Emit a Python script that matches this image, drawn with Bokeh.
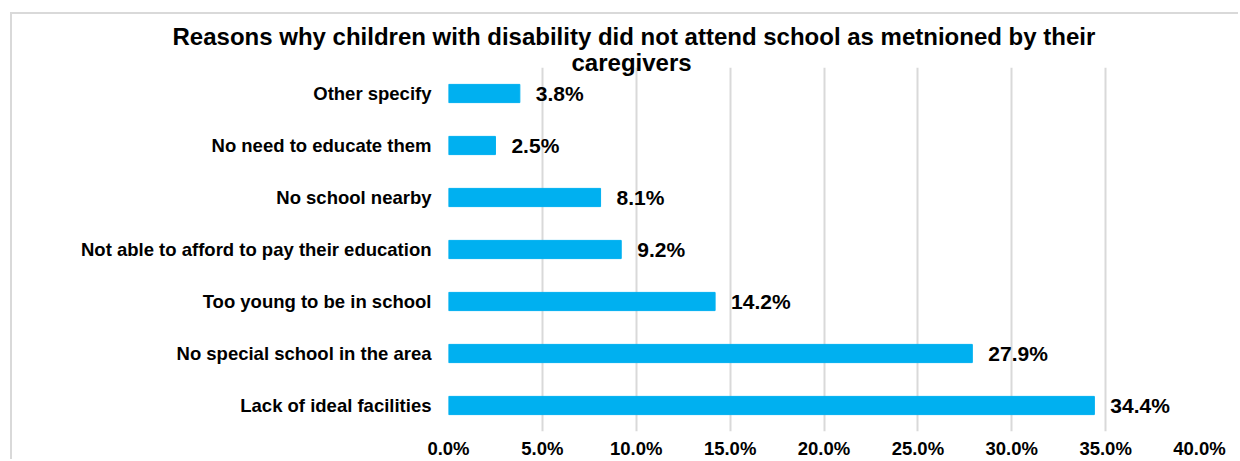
from bokeh.plotting import figure
from bokeh.models import FactorRange, Range1d, PrintfTickFormatter, Title, ColumnDataSource, FixedTicker
from bokeh.core.properties import value
from bokeh.embed import file_html
from bokeh.resources import INLINE

categories = ["Lack of ideal facilities", "No special school in the area", "Too young to be in school",
              "Not able to afford to pay their education", "No school nearby",
              "No need to educate them", "Other specify"]
values = [34.4, 27.9, 14.2, 9.2, 8.1, 2.5, 3.8]
x_ticks = [0, 5, 10, 15, 20, 25, 30, 35, 40]
title_lines = ["Reasons why children with disability did not attend school as metnioned by their", "caregivers"]

FONT = "Liberation Sans"
BAR = "#00B0F0"
GRID = "#d9d9d9"

W, H = 1228, 447
FL, FR, FT, FB = 436, 1187, 53, 418  # frame edges in figure px

src = ColumnDataSource(dict(cat=categories, val=values, lab=[f"{v:.1f}%" for v in values]))

p = figure(width=W, height=H, output_backend="svg", toolbar_location=None,
           y_range=FactorRange(factors=categories), x_range=Range1d(0, 40),
           min_border_left=FL, min_border_right=W - FR, min_border_top=FT, min_border_bottom=H - FB)
p.outline_line_color = None
p.background_fill_color = "white"
p.border_fill_color = "white"
p.styles = {"margin-left": "10px", "margin-top": "12px",
            "border-left": "2px solid #d9d9d9", "border-top": "2px solid #d9d9d9"}

p.hbar(y="cat", right="val", left=0, height=0.35, source=src, color=BAR)
p.text(x="val", y="cat", text="lab", source=src, x_offset=16, text_baseline="middle",
       text_font=value(FONT), text_font_style="bold", text_font_size="21px", text_color="black")

p.xaxis.ticker = FixedTicker(ticks=x_ticks)
p.xaxis.formatter = PrintfTickFormatter(format="%.1f%%")
for ax in (p.xaxis, p.yaxis):
    ax.axis_line_color = None
    ax.major_tick_line_color = None
    ax.minor_tick_line_color = None
    ax.major_tick_out = 0
    ax.major_tick_in = 0
    ax.minor_tick_out = 0
    ax.major_label_text_font = FONT
    ax.major_label_text_font_style = "bold"
    ax.major_label_text_color = "black"
p.xaxis.major_label_text_font_size = "18.5px"
p.xaxis.major_label_standoff = 6
p.yaxis.major_label_text_font_size = "18.5px"
p.yaxis.major_label_standoff = 17

p.xgrid.ticker = FixedTicker(ticks=x_ticks)
p.xgrid.grid_line_color = GRID
p.xgrid.grid_line_width = 2
p.ygrid.grid_line_color = None

# title: second line nearest the plot, added first
p.add_layout(Title(text=title_lines[1], align="left", offset=123, standoff=-16, vertical_align="bottom",
                   text_font=FONT, text_font_style="bold", text_font_size="24px", text_color="black"), "above")
p.add_layout(Title(text=title_lines[0], align="left", offset=-276, standoff=9, vertical_align="bottom",
                   text_font=FONT, text_font_style="bold", text_font_size="24px", text_color="black"), "above")

open("out.html", "w").write(file_html(p, INLINE))
